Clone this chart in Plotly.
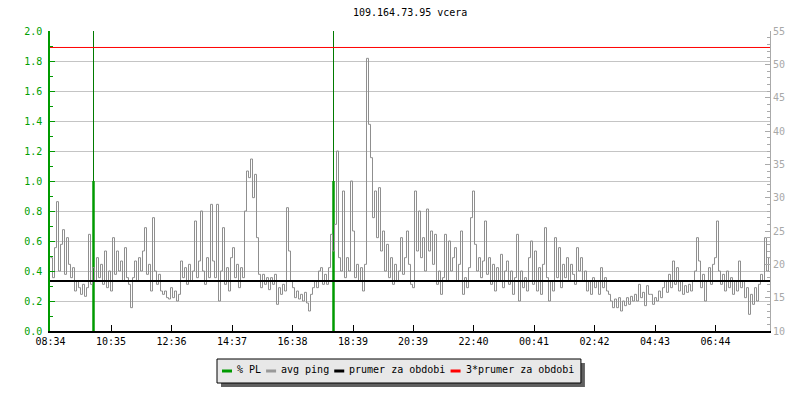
import plotly.graph_objects as go

# ---------------- data ----------------
title_text = "109.164.73.95 vcera"
start_time = "08:34"
sample_step_min = 4
tick_labels = ["08:34", "10:35", "12:36", "14:37", "16:38", "18:39",
               "20:39", "22:40", "00:41", "02:42", "04:43", "06:44"]

# average ping [ms], one sample every 4 minutes from 08:34
avg_ping = [
    21, 18, 22.5, 29.4, 19, 23, 25.2, 18.5, 24, 20,
    18, 19.5, 16, 17.5, 16.5, 15.5, 17, 15.2, 16.5, 24.5,
    17, 19.5, 17.5, 21, 18, 20, 17, 22, 16.5, 19,
    16, 24, 18.5, 22, 19, 20.5, 17.5, 22.5, 18, 17,
    13.5, 18, 20.5, 17.5, 21, 19, 22, 25.5, 18.5, 20,
    16, 27, 19, 17, 18.5, 16, 15.5, 16, 15, 14.8,
    16.5, 15, 16, 14.5, 15.5, 20.5, 18, 19.5, 17, 20,
    17.5, 19, 26.5, 18, 20.5, 28, 19, 17, 21, 18,
    29, 20.5, 18, 29, 14.5, 19, 25.5, 17, 19.5, 16,
    21, 22.5, 18, 20, 16.5, 19.5, 18, 28, 34, 33,
    35.8, 30, 33.5, 24, 18.5, 16.5, 18.5, 17, 18, 16.2,
    18, 17, 18.5, 14, 16.5, 15.5, 17, 16, 28.5, 22,
    17.5, 16.5, 15, 16, 14.8, 15.5, 14.5, 15.8, 14.2, 13,
    15.5, 16.5, 17.5, 16.5, 19, 19.5, 17, 18.5, 17, 19.5,
    24.5, 22, 26, 37, 21, 19, 31, 18, 21, 19,
    32.5, 25, 18, 20, 17.5, 19.5, 16, 20, 50.9, 41,
    36, 27, 31, 24, 31.5, 22, 25, 19, 23, 18,
    21, 17, 20, 17.5, 19, 24, 18.5, 21, 25, 20,
    17, 16.5, 31, 22, 28, 21, 24, 19, 28.3, 22,
    25, 20, 24.5, 17, 19, 15.5, 18, 24.5, 17.5, 23.5,
    19, 21, 22.5, 17.5, 20, 25, 15.5, 18, 16.5, 19.5,
    27, 31, 23, 19, 21, 18, 20.5, 26.5, 18.5, 21,
    17, 20, 16, 19.5, 17.5, 21.5, 16.5, 19, 20.5, 17,
    19, 15.5, 18, 24.5, 14.5, 19, 16.5, 18, 16, 21,
    23.5, 17, 22, 16, 19.5, 15.5, 20, 25.5, 18, 14.5,
    17.5, 16, 24, 18, 22.5, 16.5, 20, 18, 21, 17.5,
    20, 18.5, 17, 22.5, 19, 21, 17.5, 19, 16, 17.5,
    15.5, 18, 16.5, 17.5, 15.5, 19.5, 16.5, 18, 16, 15.5,
    14.5, 13.5, 14.8, 13.5, 15, 13, 14.5, 13.8, 15, 14,
    15.2, 14.5, 15.5, 14.5, 17, 15, 15.8, 13.8, 16.8, 15.5,
    15.5, 14, 15, 14.5, 16, 15, 16.5, 17.5, 15.8, 18.5,
    16.5, 20.5, 17, 19.5, 16, 17.5, 15.5, 16.8, 15.8, 17,
    16, 17.5, 19, 24, 20.5, 16.5, 18.5, 14.5, 17.5, 19.5,
    17, 20, 21, 26.5, 19, 17, 18.5, 16, 19, 16.5,
    18, 15.5, 17.5, 16, 20.5, 16.5, 17.5, 15, 16.5, 12.5,
    15.5, 14, 16.5, 14.5, 17, 18.5, 17.5, 24, 19, 21,
    19.5,
]

# packet loss events
pl_times = ["10:00", "18:00"]
pl_values = [1.0, 1.0]

prumer = 17.51           # period average [ms]
prumer_factor = 3        # "3*prumer"

series_names = ["% PL", "avg ping", "prumer za obdobi", "3*prumer za obdobi"]
series_colors = ["#009a00", "#999999", "#000000", "#ff0000"]

# ---------------- helpers ----------------
def to_min(hhmm):
    h, m = hhmm.split(":")
    sh, sm = start_time.split(":")
    return (int(h) * 60 + int(m) - int(sh) * 60 - int(sm)) % 1440

X_RANGE = [-1, 1439]
Y_LEFT = [0, 2.0]
Y_RIGHT = [10, 55]

ping_x = [i * sample_step_min for i in range(len(avg_ping))]
tick_vals = [to_min(t) for t in tick_labels]

MONO = "DejaVu Sans Mono"

fig = go.Figure()

# % PL thin part (drawn under the ping line)
thin_x, thin_y, thick_x, thick_y = [], [], [], []
for t, v in zip(pl_times, pl_values):
    m = to_min(t)
    thin_x += [m, m, None]
    thin_y += [0, Y_LEFT[1], None]
    thick_x += [m, m, None]
    thick_y += [0, v, None]
fig.add_trace(go.Scatter(x=thin_x, y=thin_y, mode="lines", yaxis="y",
                         showlegend=False, hoverinfo="skip",
                         line=dict(color="#007a00", width=1)))

# avg ping
fig.add_trace(go.Scatter(x=ping_x, y=avg_ping, mode="lines", yaxis="y2",
                         name=series_names[1],
                         line=dict(color="#8f8f8f", width=1, shape="hv")))

# % PL thick part
fig.add_trace(go.Scatter(x=thick_x, y=thick_y, mode="lines", yaxis="y",
                         name=series_names[0],
                         line=dict(color=series_colors[0], width=2.5)))

# averages
fig.add_trace(go.Scatter(x=[X_RANGE[0], X_RANGE[1]], y=[prumer, prumer], mode="lines",
                         yaxis="y2", name=series_names[2],
                         line=dict(color=series_colors[2], width=2)))
fig.add_trace(go.Scatter(x=[X_RANGE[0], X_RANGE[1]], y=[prumer * prumer_factor] * 2,
                         mode="lines", yaxis="y2", name=series_names[3],
                         line=dict(color=series_colors[3], width=1)))

# ---------------- layout ----------------
# the page body has an 8px margin, so the figure is drawn 8px smaller
OFF = 8
L, R, T, B = 50, 30, 31, 69          # target plot-area margins on screen
W, H = 800, 400
PW, PH = W - L - R, H - T - B

def px_x(px):
    return (px - L) / PW

def px_y(py):
    return (H - B - py) / PH

fig.update_layout(
    width=W - OFF, height=H - OFF,
    margin=dict(l=L - OFF, r=R, t=T - OFF, b=B, pad=0),
    paper_bgcolor="white", plot_bgcolor="white",
    showlegend=False,
    font=dict(family=MONO, size=10, color="black"),
    xaxis=dict(range=X_RANGE, tickvals=tick_vals, ticktext=tick_labels,
               showgrid=False, zeroline=False, showline=True,
               linecolor="black", linewidth=1.5,
               ticks="inside", ticklen=6, tickcolor="black", tickwidth=1,
               tickfont=dict(family=MONO, size=10, color="black")),
    yaxis=dict(range=Y_LEFT, dtick=0.2, tickformat=".1f",
               showgrid=True, gridcolor="#c4c4c4", gridwidth=1,
               zeroline=False, showline=True, linecolor="#009a00", linewidth=1.5,
               ticks="inside", ticklen=5, tickcolor="#009a00",
               ticklabelstandoff=4,
               tickfont=dict(family=MONO, size=10, color="#00a000"),
               minor=dict(dtick=0.1, ticks="inside", ticklen=3,
                          tickcolor="#009a00", showgrid=False)),
    yaxis2=dict(range=Y_RIGHT, dtick=5, overlaying="y", side="right",
                showgrid=False, zeroline=False, showline=True,
                linecolor="#aaaaaa", linewidth=1,
                ticks="inside", ticklen=5, tickcolor="#aaaaaa",
                tickfont=dict(family=MONO, size=10, color="#a8a8a8"),
                minor=dict(dtick=1, ticks="inside", ticklen=3,
                           tickcolor="#aaaaaa", showgrid=False)),
)

# title
fig.add_annotation(text=title_text, xref="paper", yref="paper",
                   x=0.5, y=px_y(13), xanchor="center", yanchor="middle",
                   showarrow=False, font=dict(family=MONO, size=10, color="black"))

# ---------------- custom legend ----------------
char_w = 6.02
box_left, box_top, box_bottom = 217, 359, 383
row_y = 371
item_x = box_left + 5
items = []
for name, col in zip(series_names, series_colors):
    sw0 = item_x
    sw1 = sw0 + 10
    tx = sw1 + 4
    items.append((name, col, sw0, sw1, tx))
    item_x = tx + len(name) * char_w + 6
box_right = item_x + 2

fig.add_shape(type="rect", xref="paper", yref="paper",
              x0=px_x(box_left + 4), x1=px_x(box_right + 4),
              y0=px_y(box_top + 4), y1=px_y(box_bottom + 4),
              fillcolor="#606060", line=dict(width=0), layer="above")
fig.add_shape(type="rect", xref="paper", yref="paper",
              x0=px_x(box_left), x1=px_x(box_right),
              y0=px_y(box_top), y1=px_y(box_bottom),
              fillcolor="#e8e8e8", line=dict(color="black", width=1), layer="above")
for name, col, sw0, sw1, tx in items:
    fig.add_shape(type="line", xref="paper", yref="paper",
                  x0=px_x(sw0), x1=px_x(sw1), y0=px_y(row_y), y1=px_y(row_y),
                  line=dict(color=col, width=3), layer="above")
    fig.add_annotation(text=name, xref="paper", yref="paper",
                       x=px_x(tx - 1), y=px_y(row_y - 1), xanchor="left", yanchor="middle",
                       showarrow=False,
                       font=dict(family=MONO, size=10, color="black"))

fig.write_html("out.html")
